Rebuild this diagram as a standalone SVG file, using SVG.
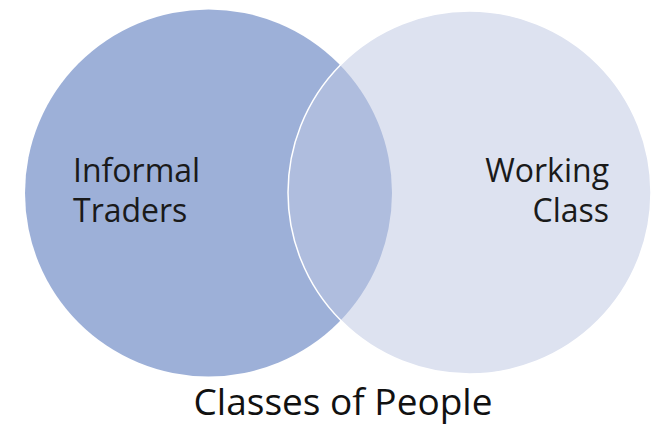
<svg xmlns="http://www.w3.org/2000/svg" width="651" height="430" viewBox="0 0 651 430">
  <style>
    .label { font-family: "Open Sans", "Liberation Sans", sans-serif; font-size: 32px; fill: #1a1a1a; }
    .title { font-family: "Open Sans", "Liberation Sans", sans-serif; font-size: 37px; fill: #111111; }
    .set-a { fill: rgb(157,176,216); }
    .set-b { fill: rgb(191,200,227); fill-opacity: 0.53; stroke: #ffffff; stroke-width: 1.5; }
  </style>
  <rect x="0" y="0" width="651" height="430" fill="#ffffff"/>

  <!-- Left set -->
  <g id="informal-traders">
    <circle class="set-a" cx="208.5" cy="193" r="183.5"/>
    <text class="label" x="73" y="182">Informal</text>
    <text class="label" x="73" y="222">Traders</text>
  </g>

  <!-- Right set, translucent so the overlap blends -->
  <g id="working-class">
    <circle class="set-b" cx="469.5" cy="192.5" r="181.5"/>
    <text class="label" x="609" y="182" text-anchor="end">Working</text>
    <text class="label" x="609" y="222" text-anchor="end">Class</text>
  </g>

  <g id="connectors"></g>

  <g id="caption">
    <text class="title" x="343" y="415" text-anchor="middle">Classes of People</text>
  </g>
</svg>
